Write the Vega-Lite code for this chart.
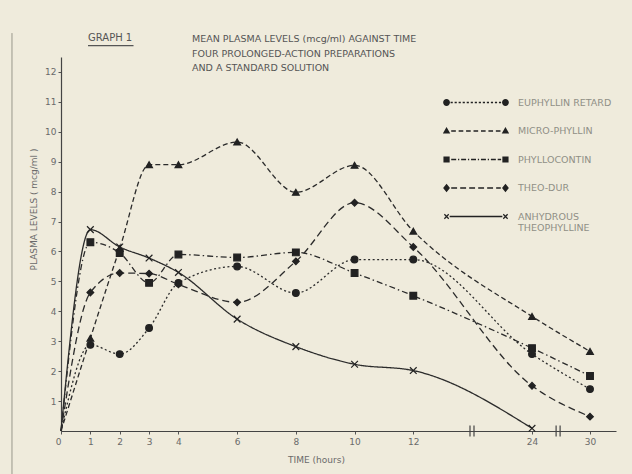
{
  "$schema": "https://vega.github.io/schema/vega-lite/v6.json",
  "width": 555,
  "height": 374,
  "autosize": "none",
  "padding": {"left": 61, "top": 57, "right": 16, "bottom": 43},
  "background": "#efebdc",
  "config": {
    "view": {"stroke": null},
    "font": "DejaVu Sans",
    "axis": {"labelOverlap": false, "grid": false, "domainColor": "#444444", "domainWidth": 1.2, "tickColor": "#555555", "tickSize": 3,
             "labelFontSize": 9, "labelColor": "#6a6a6a", "titleFontSize": 9, "titleFontWeight": "normal", "titleColor": "#6a6a6a"},
    "axisY": {"labelOverlap": false, "labelPadding": 2},
    "axisX": {"labelOverlap": false, "labelPadding": 3, "labelFlush": false}
  },
  "title": {
    "text": ["MEAN PLASMA LEVELS (mcg/ml) AGAINST TIME", "FOUR PROLONGED-ACTION PREPARATIONS", "AND A STANDARD SOLUTION"],
    "anchor": "start", "frame": "group", "dx": 131, "offset": -40,
    "fontSize": 9.5, "fontWeight": "normal", "color": "#555555", "font": "DejaVu Sans", "lineHeight": 14.5
  },
  "datasets": {
    "levels": [
      {"series": "EUPHYLLIN RETARD", "time": 0, "level": 0},
      {"series": "EUPHYLLIN RETARD", "time": 1, "level": 2.88},
      {"series": "EUPHYLLIN RETARD", "time": 2, "level": 2.57},
      {"series": "EUPHYLLIN RETARD", "time": 3, "level": 3.44},
      {"series": "EUPHYLLIN RETARD", "time": 4, "level": 4.95},
      {"series": "EUPHYLLIN RETARD", "time": 6, "level": 5.5},
      {"series": "EUPHYLLIN RETARD", "time": 8, "level": 4.61},
      {"series": "EUPHYLLIN RETARD", "time": 10, "level": 5.73},
      {"series": "EUPHYLLIN RETARD", "time": 12, "level": 5.73},
      {"series": "EUPHYLLIN RETARD", "time": 24, "level": 2.57},
      {"series": "EUPHYLLIN RETARD", "time": 30, "level": 1.4},
      {"series": "MICRO-PHYLLIN", "time": 0, "level": 0},
      {"series": "MICRO-PHYLLIN", "time": 1, "level": 3.1},
      {"series": "MICRO-PHYLLIN", "time": 2, "level": 6.1},
      {"series": "MICRO-PHYLLIN", "time": 3, "level": 8.9},
      {"series": "MICRO-PHYLLIN", "time": 4, "level": 8.9},
      {"series": "MICRO-PHYLLIN", "time": 6, "level": 9.66},
      {"series": "MICRO-PHYLLIN", "time": 8, "level": 7.98},
      {"series": "MICRO-PHYLLIN", "time": 10, "level": 8.88},
      {"series": "MICRO-PHYLLIN", "time": 12, "level": 6.68},
      {"series": "MICRO-PHYLLIN", "time": 24, "level": 3.83},
      {"series": "MICRO-PHYLLIN", "time": 30, "level": 2.66},
      {"series": "PHYLLOCONTIN", "time": 0, "level": 0},
      {"series": "PHYLLOCONTIN", "time": 1, "level": 6.31},
      {"series": "PHYLLOCONTIN", "time": 2, "level": 5.95},
      {"series": "PHYLLOCONTIN", "time": 3, "level": 4.95},
      {"series": "PHYLLOCONTIN", "time": 4, "level": 5.9},
      {"series": "PHYLLOCONTIN", "time": 6, "level": 5.8},
      {"series": "PHYLLOCONTIN", "time": 8, "level": 5.97},
      {"series": "PHYLLOCONTIN", "time": 10, "level": 5.28},
      {"series": "PHYLLOCONTIN", "time": 12, "level": 4.52},
      {"series": "PHYLLOCONTIN", "time": 24, "level": 2.77},
      {"series": "PHYLLOCONTIN", "time": 30, "level": 1.84},
      {"series": "THEO-DUR", "time": 0, "level": 0},
      {"series": "THEO-DUR", "time": 1, "level": 4.63},
      {"series": "THEO-DUR", "time": 2, "level": 5.28},
      {"series": "THEO-DUR", "time": 3, "level": 5.26},
      {"series": "THEO-DUR", "time": 4, "level": 4.9},
      {"series": "THEO-DUR", "time": 6, "level": 4.3},
      {"series": "THEO-DUR", "time": 8, "level": 5.67},
      {"series": "THEO-DUR", "time": 10, "level": 7.63},
      {"series": "THEO-DUR", "time": 12, "level": 6.15},
      {"series": "THEO-DUR", "time": 24, "level": 1.51},
      {"series": "THEO-DUR", "time": 30, "level": 0.48},
      {"series": "ANHYDROUS THEOPHYLLINE", "time": 0, "level": 0},
      {"series": "ANHYDROUS THEOPHYLLINE", "time": 1, "level": 6.73},
      {"series": "ANHYDROUS THEOPHYLLINE", "time": 2, "level": 6.15},
      {"series": "ANHYDROUS THEOPHYLLINE", "time": 3, "level": 5.78},
      {"series": "ANHYDROUS THEOPHYLLINE", "time": 4, "level": 5.3},
      {"series": "ANHYDROUS THEOPHYLLINE", "time": 6, "level": 3.74},
      {"series": "ANHYDROUS THEOPHYLLINE", "time": 8, "level": 2.82},
      {"series": "ANHYDROUS THEOPHYLLINE", "time": 10, "level": 2.23},
      {"series": "ANHYDROUS THEOPHYLLINE", "time": 12, "level": 2.02},
      {"series": "ANHYDROUS THEOPHYLLINE", "time": 24, "level": 0.09}
    ]
  },
  "resolve": {"scale": {"shape": "independent"}, "legend": {"shape": "independent"}},
  "layer": [
    {
      "data": {"values": [{"edge": "page"}]},
      "mark": {"type": "rule", "color": "#9a978c", "strokeWidth": 1},
      "encoding": {"x": {"datum": -1.67}, "y": {"datum": -1.45}, "y2": {"datum": 13.3}}
    },
    {
      "data": {"name": "levels"},
      "mark": {"type": "line", "interpolate": "monotone", "strokeWidth": 1.3, "color": "#2b2b2b"},
      "encoding": {
        "x": {
          "field": "time", "type": "quantitative",
          "scale": {"domain": [0, 14, 24, 30, 32.7], "range": [0, 411, 471, 529, 555], "nice": false, "zero": false},
          "axis": {
            "values": [0, 1, 2, 3, 4, 6, 8, 10, 12, 24, 30], "tickCount": 30, "format": "d",
            "title": "TIME (hours)",
            "labelAlign": {"expr": "datum.value == 0 ? 'right' : 'center'"},
            "titleX": 255, "titleY": 28, "titleAlign": "center", "titleBaseline": "middle"
          }
        },
        "y": {
          "field": "level", "type": "quantitative",
          "scale": {"domain": [0, 12.5], "nice": false},
          "axis": {
            "values": [1, 2, 3, 4, 5, 6, 7, 8, 9, 10, 11, 12], "tickCount": 30, "format": "d",
            "title": "PLASMA LEVELS ( mcg/ml )",
            "titleAngle": 270, "titleX": -28, "titleY": 152, "titleAlign": "center", "titleBaseline": "middle"
          }
        },
        "strokeDash": {
          "field": "series", "type": "nominal",
          "scale": {
            "domain": ["EUPHYLLIN RETARD", "MICRO-PHYLLIN", "PHYLLOCONTIN", "THEO-DUR", "ANHYDROUS THEOPHYLLINE"],
            "range": [[2, 2.5], [5, 3], [6, 3, 1.5, 3], [7, 4], [1, 0]]
          },
          "legend": null
        }
      }
    },
    {
      "data": {"name": "levels"},
      "transform": [{"filter": "datum.time > 0"}],
      "mark": {"type": "point", "filled": true, "color": "#222222", "stroke": "#222222", "strokeWidth": 1.2, "size": 45, "opacity": 1},
      "encoding": {
        "x": {"field": "time", "type": "quantitative"},
        "y": {"field": "level", "type": "quantitative"},
        "shape": {
          "field": "series", "type": "nominal",
          "scale": {
            "domain": ["EUPHYLLIN RETARD", "MICRO-PHYLLIN", "PHYLLOCONTIN", "THEO-DUR", "ANHYDROUS THEOPHYLLINE"],
            "range": ["circle", "triangle-up", "square", "diamond", "M-1,-1L1,1M-1,1L1,-1"]
          },
          "legend": null
        }
      }
    },
    {
      "data": {"name": "levels"},
      "transform": [{"filter": "false"}],
      "mark": {"type": "point", "filled": true, "color": "#222222", "opacity": 1},
      "encoding": {
        "x": {"field": "time", "type": "quantitative"},
        "y": {"field": "level", "type": "quantitative"},
        "shape": {
          "field": "series", "type": "nominal",
          "scale": {
            "domain": ["EUPHYLLIN RETARD", "MICRO-PHYLLIN", "PHYLLOCONTIN", "THEO-DUR", "ANHYDROUS THEOPHYLLINE"],
            "range": [
              "M-2.12,0A0.22,0.22 0 1,0 -1.68,0A0.22,0.22 0 1,0 -2.12,0ZM1.68,0A0.22,0.22 0 1,0 2.12,0A0.22,0.22 0 1,0 1.68,0ZM-1.64,-0.044H-1.5V0.044H-1.64ZM-1.38,-0.044H-1.24V0.044H-1.38ZM-1.12,-0.044H-0.98V0.044H-1.12ZM-0.86,-0.044H-0.72V0.044H-0.86ZM-0.6,-0.044H-0.46V0.044H-0.6ZM-0.34,-0.044H-0.2V0.044H-0.34ZM-0.08,-0.044H0.06V0.044H-0.08ZM0.18,-0.044H0.32V0.044H0.18ZM0.44,-0.044H0.58V0.044H0.44ZM0.7,-0.044H0.84V0.044H0.7ZM0.96,-0.044H1.1V0.044H0.96ZM1.22,-0.044H1.36V0.044H1.22ZM1.48,-0.044H1.62V0.044H1.48Z",
              "M-1.9,-0.26L-1.66,0.16L-2.14,0.16ZM1.9,-0.26L2.14,0.16L1.66,0.16ZM-1.6,-0.044H-1.3V0.044H-1.6ZM-1.12,-0.044H-0.82V0.044H-1.12ZM-0.64,-0.044H-0.34V0.044H-0.64ZM-0.16,-0.044H0.14V0.044H-0.16ZM0.32,-0.044H0.62V0.044H0.32ZM0.8,-0.044H1.1V0.044H0.8ZM1.28,-0.044H1.58V0.044H1.28Z",
              "M-2.1,-0.2H-1.7V0.2H-2.1ZM1.7,-0.2H2.1V0.2H1.7ZM-1.6,-0.044H-1.28V0.044H-1.6ZM-1.16,-0.044H-1.08V0.044H-1.16ZM-0.96,-0.044H-0.64V0.044H-0.96ZM-0.52,-0.044H-0.44V0.044H-0.52ZM-0.32,-0.044H0V0.044H-0.32ZM0.12,-0.044H0.2V0.044H0.12ZM0.32,-0.044H0.64V0.044H0.32ZM0.76,-0.044H0.84V0.044H0.76ZM0.96,-0.044H1.28V0.044H0.96ZM1.4,-0.044H1.62V0.044H1.4Z",
              "M-1.9,-0.28L-1.68,0L-1.9,0.28L-2.12,0ZM1.9,-0.28L2.12,0L1.9,0.28L1.68,0ZM-1.6,-0.044H-1.22V0.044H-1.6ZM-1.02,-0.044H-0.64V0.044H-1.02ZM-0.44,-0.044H-0.06V0.044H-0.44ZM0.14,-0.044H0.52V0.044H0.14ZM0.72,-0.044H1.1V0.044H0.72ZM1.3,-0.044H1.6V0.044H1.3Z",
              "M-2.0132,0.1698L-2.0698,0.1132L-1.9566,0L-2.0698,-0.1132L-2.0132,-0.1698L-1.9,-0.0566L-1.7868,-0.1698L-1.7302,-0.1132L-1.8434,0L-1.7302,0.1132L-1.7868,0.1698L-1.9,0.0566ZM1.7868,0.1698L1.7302,0.1132L1.8434,0L1.7302,-0.1132L1.7868,-0.1698L1.9,-0.0566L2.0132,-0.1698L2.0698,-0.1132L1.9566,0L2.0698,0.1132L2.0132,0.1698L1.9,0.0566ZM-1.7,-0.044H1.7V0.044H-1.7Z"
            ]
          },
          "legend": {
            "title": null, "orient": "none", "legendX": 399.5, "legendY": 30,
            "symbolSize": 961, "symbolStrokeWidth": 0, "symbolOffset": 0, "symbolOpacity": 1, "padding": 0, "rowPadding": 8.5,
            "labelOffset": 26.5, "labelFontSize": 9.5, "labelColor": "#8f8f86", "labelFont": "DejaVu Sans", "labelLimit": 0,
            "labelBaseline": "middle",
            "labelExpr": "datum.label == 'ANHYDROUS THEOPHYLLINE' ? ['ANHYDROUS', 'THEOPHYLLINE'] : datum.label",
            "encode": {
              "symbols": {"update": {"fill": {"value": "#222222"}, "stroke": {"value": "transparent"}, "opacity": {"value": 1}}},
              "labels": {"update": {"dy": {"signal": "datum.label == 'ANHYDROUS THEOPHYLLINE' ? 6 : 0"}}}
            }
          }
        }
      }
    },
    {
      "data": {"values": [{"t": 14}, {"t": 26.7}]},
      "mark": {"type": "rule", "color": "#444444", "strokeWidth": 1.2, "xOffset": -2},
      "encoding": {"x": {"field": "t", "type": "quantitative"}, "y": {"datum": -0.18}, "y2": {"datum": 0.18}}
    },
    {
      "data": {"values": [{"t": 14}, {"t": 26.7}]},
      "mark": {"type": "rule", "color": "#444444", "strokeWidth": 1.2, "xOffset": 2},
      "encoding": {"x": {"field": "t", "type": "quantitative"}, "y": {"datum": -0.18}, "y2": {"datum": 0.18}}
    },
    {
      "data": {"values": [{"label": "GRAPH 1"}]},
      "mark": {"type": "text", "align": "left", "baseline": "middle", "fontSize": 10, "color": "#555555", "font": "DejaVu Sans"},
      "encoding": {"x": {"datum": 0.92}, "y": {"datum": 13.13}, "text": {"field": "label"}}
    },
    {
      "data": {"values": [{"label": "GRAPH 1"}]},
      "mark": {"type": "rule", "color": "#555555", "strokeWidth": 1.2},
      "encoding": {"x": {"datum": 0.92}, "x2": {"datum": 2.47}, "y": {"datum": 12.88}}
    }
  ]
}
